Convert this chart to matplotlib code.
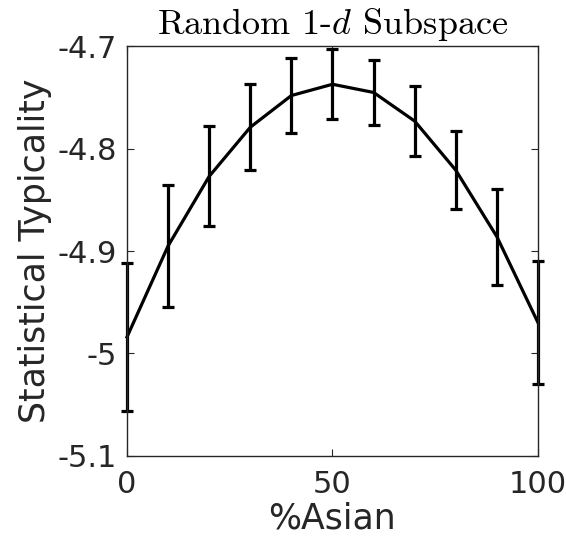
import matplotlib
matplotlib.use('Agg')
import matplotlib.pyplot as plt

# 数据：横轴为亚洲人比例，纵轴为统计典型性（均值与误差）
pct_asian = [0, 10, 20, 30, 40, 50, 60, 70, 80, 90, 100]
typicality = [-4.984, -4.895, -4.827, -4.779, -4.748, -4.737, -4.745, -4.773, -4.821, -4.886, -4.970]
err = [0.0725, 0.060, 0.049, 0.042, 0.037, 0.034, 0.032, 0.034, 0.038, 0.047, 0.060]

yticks = [-5.1, -5.0, -4.9, -4.8, -4.7]
ytick_labels = ['-5.1', '-5', '-4.9', '-4.8', '-4.7']
xticks = [0, 50, 100]
xtick_labels = ['0', '50', '100']

plt.rcParams['mathtext.fontset'] = 'cm'
gray = '#262626'

fig = plt.figure(figsize=(5.66, 5.5), dpi=100)
ax = fig.add_axes([0.2244, 0.1716, 0.7261, 0.744])

# 误差棒不裁剪，两端的横帽要露在坐标框外
eb = ax.errorbar(pct_asian, typicality, yerr=err, color='k', lw=2.3,
                 elinewidth=2.3, capsize=4, capthick=2.3)
for artist in eb.lines[1] + eb.lines[2] + (eb.lines[0],):
    artist.set_clip_on(False)

ax.set_xlim(0, 100)
ax.set_ylim(-5.1, -4.7)
ax.set_xticks(xticks)
ax.set_xticklabels(xtick_labels)
ax.set_yticks(yticks)
ax.set_yticklabels(ytick_labels)
ax.tick_params(direction='in', top=True, right=True, labelsize=22,
               colors=gray, length=5, width=0.8)
ax.tick_params(axis='y', pad=7)
ax.tick_params(axis='x', pad=10)
for s in ax.spines.values():
    s.set_color(gray)
    s.set_linewidth(1.0)

ax.set_xlabel('%Asian', fontsize=25, color=gray, labelpad=2)
ax.set_ylabel('Statistical Typicality', fontsize=25, color=gray, labelpad=4)
ax.set_title(r'Random 1-$d$ Subspace', fontsize=26, family='cmr10', pad=9)

fig.savefig('out.png', dpi=100)
